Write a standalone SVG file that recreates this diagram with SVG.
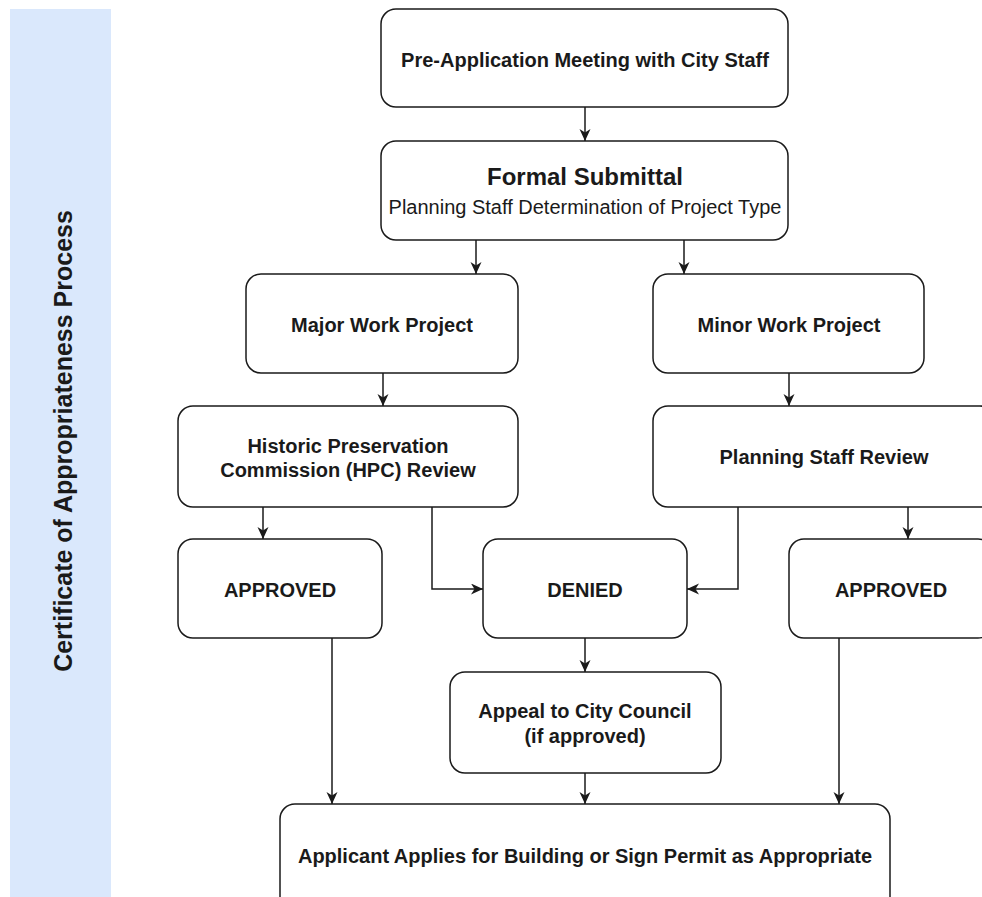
<svg xmlns="http://www.w3.org/2000/svg" width="982" height="897" viewBox="0 0 982 897">
  <style>
    .box { fill: #ffffff; stroke: #1a1a1a; stroke-width: 1.5; }
    .t { font-family: "Liberation Sans", Arial, sans-serif; font-size: 20px; font-weight: bold; fill: #1a1a1a; text-anchor: middle; }
    .r { font-weight: normal; }
    .big { font-size: 24px; }
    .conn { fill: none; stroke: #1a1a1a; stroke-width: 1.5; marker-end: url(#arr); }
  </style>
  <defs>
    <marker id="arr" markerUnits="userSpaceOnUse" markerWidth="14" markerHeight="12" refX="12" refY="5.5" orient="auto">
      <path d="M0,0 L12,5.5 L0,11 L3.5,5.5 Z" fill="#1a1a1a"/>
    </marker>
  </defs>
  <rect width="982" height="897" fill="#ffffff"/>

  <g id="lane">
    <rect x="10" y="9" width="101" height="888" fill="#dae8fc"/>
    <text class="t" style="font-size:25px" transform="translate(72,441) rotate(-90)" x="0" y="0">Certificate of Appropriateness Process</text>
  </g>

  <g id="connectors">
    <path class="conn" d="M585,107 V141"/>
    <path class="conn" d="M476,240 V274"/>
    <path class="conn" d="M684,240 V274"/>
    <path class="conn" d="M383,373 V406"/>
    <path class="conn" d="M789,373 V406"/>
    <path class="conn" d="M263,507 V539"/>
    <path class="conn" d="M432,507 V589 H483"/>
    <path class="conn" d="M738,507 V589 H687"/>
    <path class="conn" d="M908,507 V539"/>
    <path class="conn" d="M585,638 V672"/>
    <path class="conn" d="M332,638 V804"/>
    <path class="conn" d="M585,773 V804"/>
    <path class="conn" d="M839,638 V804"/>
  </g>

  <g id="preapp">
    <rect class="box" x="381" y="9" width="407" height="98" rx="15"/>
    <text class="t" x="585" y="67">Pre-Application Meeting with City Staff</text>
  </g>
  <g id="formal">
    <rect class="box" x="381" y="141" width="407" height="99" rx="15"/>
    <text class="t big" x="585" y="185">Formal Submittal</text>
    <text class="t r" x="585" y="214">Planning Staff Determination of Project Type</text>
  </g>
  <g id="major">
    <rect class="box" x="246" y="274" width="272" height="99" rx="15"/>
    <text class="t" x="382" y="332">Major Work Project</text>
  </g>
  <g id="minor">
    <rect class="box" x="653" y="274" width="271" height="99" rx="15"/>
    <text class="t" x="789" y="332">Minor Work Project</text>
  </g>
  <g id="hpc">
    <rect class="box" x="178" y="406" width="340" height="101" rx="15"/>
    <text class="t" x="348" y="453">Historic Preservation</text>
    <text class="t" x="348" y="477">Commission (HPC) Review</text>
  </g>
  <g id="psr">
    <rect class="box" x="653" y="406" width="342" height="101" rx="15"/>
    <text class="t" x="824" y="464">Planning Staff Review</text>
  </g>
  <g id="approved1">
    <rect class="box" x="178" y="539" width="204" height="99" rx="15"/>
    <text class="t" x="280" y="597">APPROVED</text>
  </g>
  <g id="denied">
    <rect class="box" x="483" y="539" width="204" height="99" rx="15"/>
    <text class="t" x="585" y="597">DENIED</text>
  </g>
  <g id="approved2">
    <rect class="box" x="789" y="539" width="204" height="99" rx="15"/>
    <text class="t" x="891" y="597">APPROVED</text>
  </g>
  <g id="appeal">
    <rect class="box" x="450" y="672" width="271" height="101" rx="15"/>
    <text class="t" x="585" y="718">Appeal to City Council</text>
    <text class="t" x="585" y="743">(if approved)</text>
  </g>
  <g id="permit">
    <rect class="box" x="280" y="804" width="610" height="110" rx="15"/>
    <text class="t" x="585" y="863">Applicant Applies for Building or Sign Permit as Appropriate</text>
  </g>
</svg>
